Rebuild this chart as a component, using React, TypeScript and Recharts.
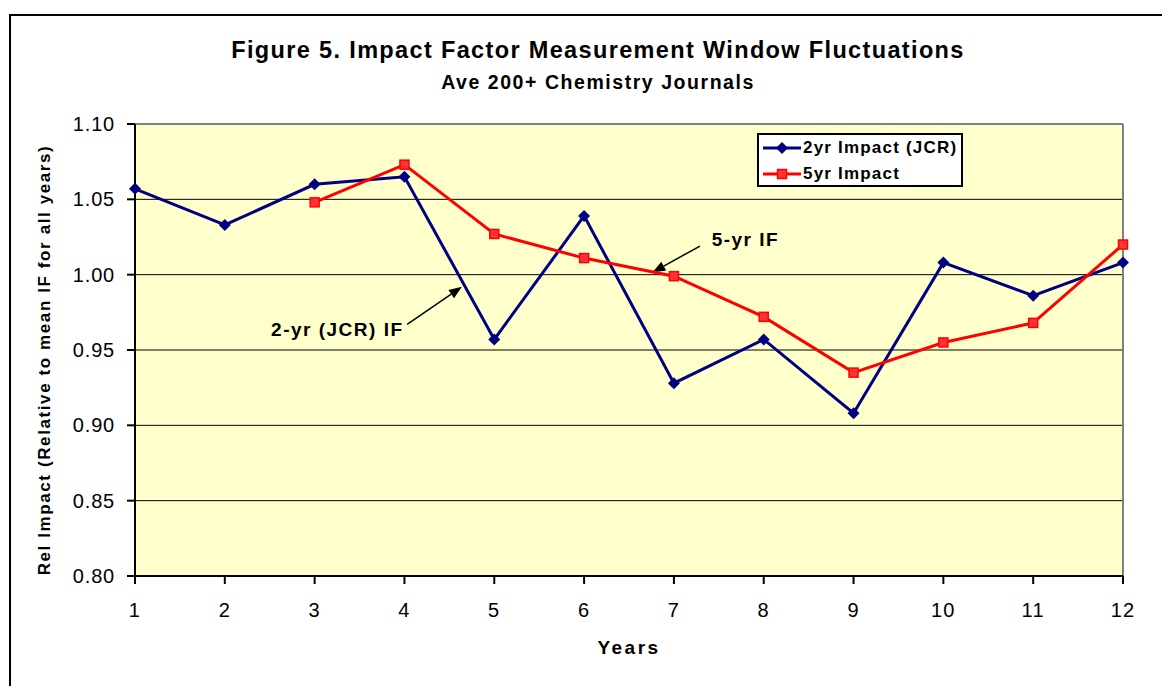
import { LineChart, Line, XAxis, YAxis, CartesianGrid, ReferenceLine, ReferenceDot } from 'recharts'

const years = [1, 2, 3, 4, 5, 6, 7, 8, 9, 10, 11, 12]
const twoYearImpact = [1.057, 1.033, 1.06, 1.065, 0.957, 1.039, 0.928, 0.957, 0.908, 1.008, 0.986, 1.008]
const fiveYearImpact = [null, null, 1.048, 1.073, 1.027, 1.011, 0.999, 0.972, 0.935, 0.955, 0.968, 1.02]
const yTicks = [0.8, 0.85, 0.9, 0.95, 1.0, 1.05, 1.1]

// annotation arrows, in data units
const arrows = [
  { from: { x: 7.29, y: 1.019 }, to: { x: 6.76, y: 1.0015 } },
  { from: { x: 4.03, y: 0.967 }, to: { x: 4.64, y: 0.992 } },
]
const notes = [
  { x: 7.42, y: 1.0235, text: '5-yr IF', anchor: 'start' },
  { x: 3.99, y: 0.9635, text: '2-yr (JCR) IF', anchor: 'end' },
]

const data = years.map((yr, i) => ({
  year: yr,
  two: twoYearImpact[i],
  five: fiveYearImpact[i],
}))

const FONT = '"Liberation Sans", Arial, sans-serif'
const NAVY = '#000080'
const RED = '#FF0000'

// eslint-disable-next-line @typescript-eslint/no-explicit-any
function Diamond(props: any) {
  const { cx, cy, index } = props
  if (cx == null || cy == null) return <g key={`d${index}`} />
  return (
    <path
      key={`d${index}`}
      d={`M${cx},${cy - 6}L${cx + 6},${cy}L${cx},${cy + 6}L${cx - 6},${cy}Z`}
      fill={NAVY}
    />
  )
}

// eslint-disable-next-line @typescript-eslint/no-explicit-any
function Square(props: any) {
  const { cx, cy, index } = props
  if (cx == null || cy == null || props.value == null) return <g key={`s${index}`} />
  return (
    <rect key={`s${index}`} x={cx - 4.5} y={cy - 4.5} width={9} height={9} fill="#FF3333" stroke={RED} strokeWidth={1.5} />
  )
}

// eslint-disable-next-line @typescript-eslint/no-explicit-any
function Arrow(props: any) {
  const { x1, y1, x2, y2 } = props
  const dx = x2 - x1
  const dy = y2 - y1
  const len = Math.sqrt(dx * dx + dy * dy)
  const ux = dx / len
  const uy = dy / len
  const hl = 13
  const hw = 5
  const bx = x2 - ux * hl
  const by = y2 - uy * hl
  return (
    <g>
      <line x1={x1} y1={y1} x2={bx} y2={by} stroke="#000" strokeWidth={1.5} />
      <polygon
        points={`${x2},${y2} ${bx - uy * hw},${by + ux * hw} ${bx + uy * hw},${by - ux * hw}`}
        fill="#000"
      />
    </g>
  )
}

// eslint-disable-next-line @typescript-eslint/no-explicit-any
function YLabel(props: any) {
  const vb = props.viewBox
  const cx = vb.x + 36
  const cy = vb.y + vb.height / 2 + 10
  return (
    <text
      x={cx}
      y={cy}
      transform={`rotate(-90 ${cx} ${cy})`}
      textAnchor="middle"
      dominantBaseline="central"
      fontFamily={FONT}
      fontWeight="bold"
      fontSize={17}
      letterSpacing={1.6}
      fill="#000"
    >
      Rel Impact (Relative to mean IF for all years)
    </text>
  )
}

function LegendIcon({ color, kind }: { color: string; kind: 'diamond' | 'square' }) {
  return (
    <svg width={38} height={14} style={{ display: 'block' }}>
      <line x1={0} y1={7} x2={38} y2={7} stroke={color} strokeWidth={3} />
      {kind === 'diamond' ? (
        <path d="M19,1L25,7L19,13L13,7Z" fill={color} />
      ) : (
        <rect x={14.5} y={2.5} width={9} height={9} fill="#FF3333" stroke={color} strokeWidth={1.5} />
      )}
    </svg>
  )
}

export default function App() {
  return (
    <div style={{ position: 'relative', width: 1162, height: 678, fontFamily: FONT }}>
      <div
        style={{
          position: 'absolute',
          left: 1,
          top: 6,
          width: 1159,
          height: 670,
          borderTop: '2px solid #000',
          borderLeft: '2px solid #000',
        }}
      />
      <div
        style={{
          position: 'absolute',
          left: 100,
          width: 980,
          top: 29,
          textAlign: 'center',
          fontWeight: 'bold',
          fontSize: 23.5,
          letterSpacing: 1.35,
          whiteSpace: 'nowrap',
        }}
      >
        Figure 5. Impact Factor Measurement Window Fluctuations
      </div>
      <div
        style={{
          position: 'absolute',
          left: 100,
          width: 980,
          top: 63,
          textAlign: 'center',
          fontWeight: 'bold',
          fontSize: 19.5,
          letterSpacing: 1.55,
          whiteSpace: 'nowrap',
        }}
      >
        Ave 200+ Chemistry Journals
      </div>
      <LineChart
        width={1162}
        height={678}
        data={data}
        margin={{ top: 116, right: 47, bottom: 0, left: 0 }}
        style={{ position: 'absolute', left: 0, top: 0 }}
      >
        <CartesianGrid vertical={false} stroke="#000" strokeWidth={1} fill="#FFFFCC" fillOpacity={1} />
        <ReferenceLine y={1.1} stroke="#808080" strokeWidth={2} />
        <ReferenceLine x={12} stroke="#808080" strokeWidth={2} />
        <XAxis
          dataKey="year"
          type="number"
          domain={[1, 12]}
          ticks={years}
          height={110}
          stroke="#000"
          strokeWidth={2}
          tickSize={8}
          tickMargin={19}
          tick={{ fontSize: 20, fill: '#000', fontFamily: FONT, letterSpacing: 1.2 }}
          label={{
            value: 'Years',
            position: 'insideBottom',
            offset: 32,
            style: { fontSize: 19, fontWeight: 'bold', fill: '#000', fontFamily: FONT, letterSpacing: 2.5 },
          }}
        />
        <YAxis
          type="number"
          domain={[0.8, 1.1]}
          ticks={yTicks}
          width={127}
          stroke="#000"
          strokeWidth={2}
          tickSize={8}
          tickMargin={12}
          tickFormatter={(v: number) => v.toFixed(2)}
          tick={{ fontSize: 20, fill: '#000', fontFamily: FONT, letterSpacing: 0.8 }}
          label={{ content: YLabel }}
        />
        {arrows.map((a, i) => (
          <ReferenceLine key={`a${i}`} segment={[a.from, a.to]} shape={<Arrow />} ifOverflow="visible" />
        ))}
        {notes.map((n, i) => (
          <ReferenceDot
            key={`n${i}`}
            x={n.x}
            y={n.y}
            r={0}
            ifOverflow="visible"
            // eslint-disable-next-line @typescript-eslint/no-explicit-any
            shape={(p: any) => (
              <text
                x={p.cx}
                y={p.cy}
                textAnchor={n.anchor as 'start' | 'end'}
                dominantBaseline="central"
                fontFamily={FONT}
                fontWeight="bold"
                fontSize={19}
                letterSpacing={1.5}
                fill="#000"
              >
                {n.text}
              </text>
            )}
          />
        ))}
        <Line
          dataKey="two"
          stroke={NAVY}
          strokeWidth={3}
          dot={Diamond}
          activeDot={false}
          isAnimationActive={false}
        />
        <Line
          dataKey="five"
          stroke={RED}
          strokeWidth={3}
          dot={Square}
          activeDot={false}
          isAnimationActive={false}
        />
      </LineChart>
      <div
        style={{
          position: 'absolute',
          left: 749,
          top: 125,
          width: 202,
          height: 50,
          background: '#fff',
          border: '2px solid #000',
          fontWeight: 'bold',
          fontSize: 17,
          letterSpacing: 1.2,
          whiteSpace: 'nowrap',
        }}
      >
        <div style={{ display: 'flex', alignItems: 'center', marginTop: 3, marginLeft: 4, height: 20 }}>
          <LegendIcon color={NAVY} kind="diamond" />
          <span style={{ marginLeft: 2 }}>2yr Impact (JCR)</span>
        </div>
        <div style={{ display: 'flex', alignItems: 'center', marginTop: 6, marginLeft: 4, height: 20 }}>
          <LegendIcon color={RED} kind="square" />
          <span style={{ marginLeft: 2 }}>5yr Impact</span>
        </div>
      </div>
    </div>
  )
}
